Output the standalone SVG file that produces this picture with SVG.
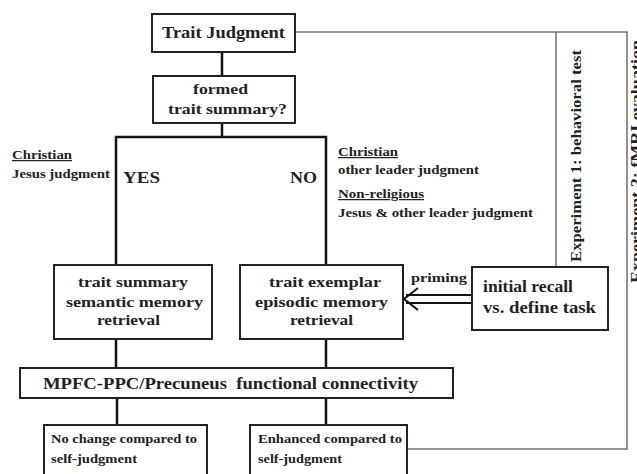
<svg xmlns="http://www.w3.org/2000/svg" width="637" height="474" viewBox="0 0 637 474" font-family="'Liberation Serif','Times New Roman','DejaVu Serif',serif">
<style>
text{font-family:"Liberation Serif","Times New Roman","DejaVu Serif",serif;font-weight:bold;fill:#222}
.box{fill:#fff;stroke:#222;stroke-width:2}
.tree{fill:none;stroke:#111;stroke-width:2.5}
.exp{fill:none;stroke:#777;stroke-width:1.6}
.c{text-anchor:middle}
.big{font-size:16px}
.mid{font-size:15px}
.sm{font-size:12.5px}
.u{text-decoration:underline}
</style>
<rect width="637" height="474" fill="#fff"/>
<g id="connectors">
<polyline class="exp" points="295,32 627,32 627,449 407,449"/>
<line class="exp" x1="556" y1="32" x2="556" y2="267"/>
<line class="tree" x1="222" y1="52" x2="222" y2="76"/>
<line class="tree" x1="222" y1="123" x2="222" y2="137"/>
<polyline class="tree" points="116,265 116,137 326,137 326,265"/>
<line class="tree" x1="116" y1="339" x2="116" y2="368"/>
<line class="tree" x1="326" y1="339" x2="326" y2="368"/>
<line class="tree" x1="117" y1="398" x2="117" y2="425"/>
<line class="tree" x1="326" y1="398" x2="326" y2="425"/>
<line stroke="#111" stroke-width="2" x1="406" y1="295" x2="472" y2="295"/>
<line stroke="#111" stroke-width="2" x1="406" y1="303" x2="472" y2="303"/>
<polyline fill="none" stroke="#111" stroke-width="2" points="418,288 404,299 418,310"/>
<text class="sm" x="411" y="282" textLength="56" lengthAdjust="spacingAndGlyphs">priming</text>
</g>
<g id="trait-judgment">
<rect class="box" x="152" y="14" width="143" height="38"/>
<text class="big" x="162" y="38" textLength="123" lengthAdjust="spacingAndGlyphs">Trait Judgment</text>
</g>
<g id="formed">
<rect class="box" x="153" y="76" width="142" height="47"/>
<text class="mid" x="193" y="94" textLength="55" lengthAdjust="spacingAndGlyphs">formed</text>
<text class="mid" x="168" y="114" textLength="119" lengthAdjust="spacingAndGlyphs">trait summary?</text>
</g>
<g id="yes-label">
<text class="sm u" x="12" y="159" textLength="60" lengthAdjust="spacingAndGlyphs">Christian</text>
<text class="sm" x="12" y="178" textLength="98" lengthAdjust="spacingAndGlyphs">Jesus judgment</text>
<text class="big" x="123" y="183" textLength="37" lengthAdjust="spacingAndGlyphs">YES</text>
</g>
<g id="no-label">
<text class="big" x="290" y="183" textLength="27" lengthAdjust="spacingAndGlyphs">NO</text>
<text class="sm u" x="338" y="156" textLength="60" lengthAdjust="spacingAndGlyphs">Christian</text>
<text class="sm" x="338" y="174" textLength="141" lengthAdjust="spacingAndGlyphs">other leader judgment</text>
<text class="sm u" x="338" y="198" textLength="86" lengthAdjust="spacingAndGlyphs">Non-religious</text>
<text class="sm" x="338" y="217" textLength="195" lengthAdjust="spacingAndGlyphs">Jesus &amp; other leader judgment</text>
</g>
<g id="semantic">
<rect class="box" x="54" y="265" width="158" height="74"/>
<text class="mid" x="78" y="287" textLength="110" lengthAdjust="spacingAndGlyphs">trait summary</text>
<text class="mid" x="66" y="307" textLength="137" lengthAdjust="spacingAndGlyphs">semantic memory</text>
<text class="mid" x="97" y="325" textLength="63" lengthAdjust="spacingAndGlyphs">retrieval</text>
</g>
<g id="episodic">
<rect class="box" x="240" y="265" width="163" height="74"/>
<text class="mid" x="269" y="287" textLength="112" lengthAdjust="spacingAndGlyphs">trait exemplar</text>
<text class="mid" x="255" y="307" textLength="133" lengthAdjust="spacingAndGlyphs">episodic memory</text>
<text class="mid" x="290" y="325" textLength="63" lengthAdjust="spacingAndGlyphs">retrieval</text>
</g>
<g id="initial-recall">
<rect class="box" x="472" y="267" width="136" height="63"/>
<text class="big" x="483" y="292" textLength="90" lengthAdjust="spacingAndGlyphs">initial recall</text>
<text class="big" x="483" y="313" textLength="113" lengthAdjust="spacingAndGlyphs">vs. define task</text>
</g>
<g id="mpfc">
<rect class="box" x="20" y="368" width="433" height="30"/>
<text class="big" x="43" y="389" textLength="375" lengthAdjust="spacingAndGlyphs" xml:space="preserve">MPFC-PPC/Precuneus  functional connectivity</text>
</g>
<g id="no-change">
<rect class="box" x="44" y="425" width="163" height="60"/>
<text class="sm" x="51" y="443" textLength="146" lengthAdjust="spacingAndGlyphs">No change compared to</text>
<text class="sm" x="51" y="463" textLength="86" lengthAdjust="spacingAndGlyphs">self-judgment</text>
</g>
<g id="enhanced">
<rect class="box" x="250" y="425" width="157" height="60"/>
<text class="sm" x="258" y="443" textLength="144" lengthAdjust="spacingAndGlyphs">Enhanced compared to</text>
<text class="sm" x="258" y="463" textLength="84" lengthAdjust="spacingAndGlyphs">self-judgment</text>
</g>
<g id="exp1">
<text transform="translate(581,262) rotate(-90)" style="font-size:14px" textLength="212" lengthAdjust="spacingAndGlyphs">Experiment 1: behavioral test</text>
</g>
<g id="exp2">
<text transform="translate(641,283) rotate(-90)" style="font-size:14px" textLength="243" lengthAdjust="spacingAndGlyphs">Experiment 2: fMRI evaluation</text>
</g>
</svg>
